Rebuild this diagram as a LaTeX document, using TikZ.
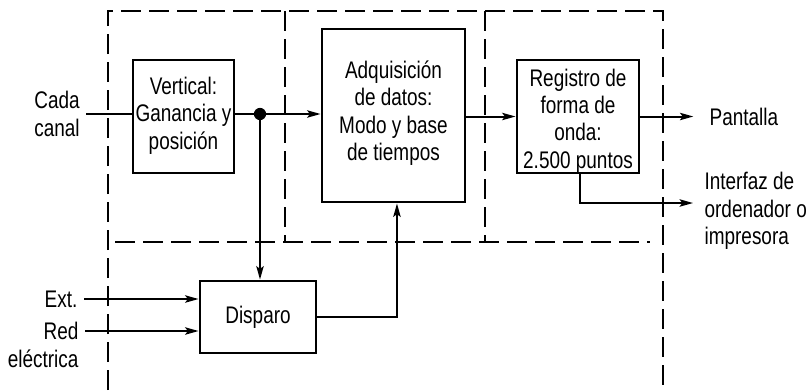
\documentclass[tikz,border=0pt]{standalone}
\usepackage{fontspec}
\setmainfont{Liberation Sans}[FakeStretch=0.79]
\usetikzlibrary{arrows.meta}
\tikzset{
  blk/.style={draw, line width=2.2pt, inner sep=0pt, align=center},
  conn/.style={line width=1.5pt},
  arr/.style={conn, -{Stealth[length=10pt,width=5.5pt,inset=2pt]}},
  dsh/.style={line width=1.5pt, dash pattern=on 15pt off 6pt},
  lbl/.style={inner sep=1pt, align=center},
}
\begin{document}
\begin{tikzpicture}[x=0.75pt,y=-0.75pt, every node/.style={font=\fontsize{18pt}{20.5pt}\selectfont}]
\useasboundingbox (0,0) rectangle (809,390);
% dashed regions
\draw[dsh] (108,390) -- (108,11) -- (663,11) -- (663,390);
\draw[dsh] (115,242) -- (650,242);
\draw[dsh] (285,11) -- (285,242);
\draw[dsh] (485,11) -- (485,242);
% blocks
\node[blk, minimum width=75.75pt, minimum height=84.75pt] (vert) at (183.5,116.5) {};
\node[lbl] (vertT) at (183.5,115.5) {Vertical:\\Ganancia y\\posición};
\node[blk, minimum width=107.25pt, minimum height=129.75pt] (adq) at (393.5,115.5) {};
\node[lbl] (adqT) at (393.5,113) {Adquisición\\de datos:\\Modo y base\\de tiempos};
\node[blk, minimum width=91.5pt, minimum height=84.75pt] (reg) at (578,116.5) {};
\node[lbl] (regT) at (578,121) {Registro de\\forma de\\onda:\\2.500 puntos};
\node[blk, minimum width=87pt, minimum height=54pt] (disp) at (258,317) {Disparo};
% labels
\node[lbl] (cada) at (57,114) {Cada\\canal};
\node[lbl, anchor=west] (pant) at (708,116.5) {Pantalla};
\node[lbl, anchor=west, align=left] (intf) at (703,211) {Interfaz de\\ordenador o\\impresora};
\node[lbl, anchor=east] (ext) at (79,299) {Ext.};
\node[lbl, anchor=east] (red) at (80,331) {Red};
\node[lbl, anchor=east] (elec) at (80,359) {eléctrica};
% coordinates
\coordinate (dot) at (260,114);
\coordinate (iEnd) at (693,203);
% connectors
\draw[conn] (cada.east |- dot) ++(5,0) -- (vert.west |- dot);
\draw[arr] (vert.east |- dot) -- (dot -| adq.west);
\fill (dot) circle (4.6pt);
\draw[arr] (dot) -- (dot |- disp.north);
\draw[arr] (adq.east |- reg.west) -- (reg.west);
\draw[arr, shorten >=11pt] (reg.east) -- (pant.west);
\draw[arr] ([xshift=1.5pt]reg.south) |- (iEnd);
\draw[arr] ([xshift=4pt]ext.east) -- (ext.east -| disp.west);
\draw[arr] ([xshift=4pt]red.east) -- (red.east -| disp.west);
\draw[arr] (disp.east) -| ([xshift=2.6pt]adq.south);
\end{tikzpicture}
\end{document}
